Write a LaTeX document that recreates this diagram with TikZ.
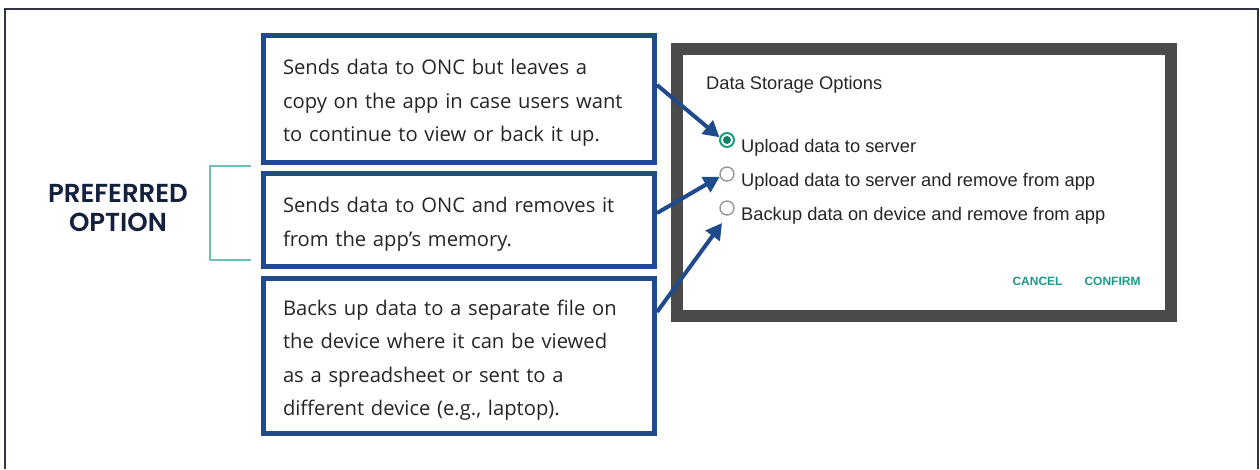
\documentclass[tikz,border=0pt]{standalone}
\usepackage{fontspec}
\setmainfont{Open Sans}
\newfontfamily\uifont{Liberation Sans}
\newfontfamily\headfont{Poppins}[UprightFont=* SemiBold]
\usetikzlibrary{arrows.meta,calc}

\definecolor{navy}{HTML}{1F4B8C}
\definecolor{inkdark}{HTML}{14213D}
\definecolor{bodytext}{HTML}{262626}
\definecolor{bracketteal}{HTML}{6DBFB8}
\definecolor{uiteal}{HTML}{1E9A8A}
\definecolor{radioteal}{HTML}{17A080}
\definecolor{panelgray}{HTML}{4A4A4A}
\definecolor{framegray}{HTML}{2E3545}

\tikzset{
  x=1pt, y=-1pt,
  infobox/.style={draw=navy, line width=5pt, fill=white, rectangle,
    inner xsep=19.5pt, inner ysep=0pt, text width=352pt, align=left,
    font=\fontsize{20.2}{33.5}\selectfont, text=bodytext,
    execute at begin node={\rule{0pt}{23.5pt}}},
  pointer/.style={draw=navy, line width=4pt, -{Triangle[length=16pt,width=17pt]}},
  radiooff/.style={circle, draw=gray!80, line width=1.4pt, minimum size=14pt, inner sep=0pt},
  radioon/.style={circle, draw=radioteal, line width=2pt, minimum size=14pt, inner sep=0pt},
  uilabel/.style={anchor=base west, inner sep=0pt, font=\uifont\fontsize{18.3}{20}\selectfont, text=black!85},
  uibutton/.style={anchor=base, inner sep=0pt, font=\uifont\bfseries\fontsize{12}{14}\selectfont, text=uiteal},
}

\begin{document}
\begin{tikzpicture}
\useasboundingbox (0,0) rectangle (1260,469);
\fill[white] (0,0) rectangle (1260,469);

% outer frame
\draw[framegray, line width=1.5pt] (5,469) -- (5,9) -- (1258,9) -- (1258,469);

% caption and bracket
\node[font=\headfont\fontsize{26}{28.5}\selectfont, text=inkdark, align=center] (pref) at (118,208)
  {PREFERRED\\OPTION};
\draw[bracketteal, line width=2pt] (251,166) -- (210,166) -- (210,260) -- (251,260);

% explanation boxes
\node[infobox, minimum height=127pt] (b1) at (459,99)
  {Sends data to ONC but leaves a\\copy on the app in case users want\\to continue to view or back it up.};
\node[infobox, minimum height=93pt] (b2) at (459,220)
  {Sends data to ONC and removes it\\from the app’s memory.};
\node[infobox, minimum height=155pt] (b3) at (459,356)
  {Backs up data to a separate file on\\the device where it can be viewed\\as a spreadsheet or sent to a\\different device (e.g., laptop).};

% dialog panel
\draw[panelgray, line width=12pt, fill=white] (677,49) rectangle (1171,316);
\node[uilabel] (title) at (706,89) {Data Storage Options};

\node[radioon] (r1) at (727,140) {};
\fill[radioteal!80!black] (r1.center) circle (4pt);
\node[radiooff] (r2) at (727,174) {};
\node[radiooff] (r3) at (727,208) {};

\node[uilabel] (l1) at (741,152) {Upload data to server};
\node[uilabel] (l2) at (741,186) {Upload data to server and remove from app};
\node[uilabel] (l3) at (741,220) {Backup data on device and remove from app};

\node[uibutton] (cancel) at (1037.5,285) {CANCEL};
\node[uibutton] (confirm) at (1112.5,285) {CONFIRM};

% pointers from boxes to options
\coordinate (t3) at ($(r3.center)+(-5,15)$);
\draw[pointer] ([yshift=14pt]b1.east) -- (r1.160);
\draw[pointer] ([yshift=7pt]b2.east) -- (r2.200);
\draw[pointer] ([yshift=-36pt]b3.north east) -- (t3);
\end{tikzpicture}
\end{document}
